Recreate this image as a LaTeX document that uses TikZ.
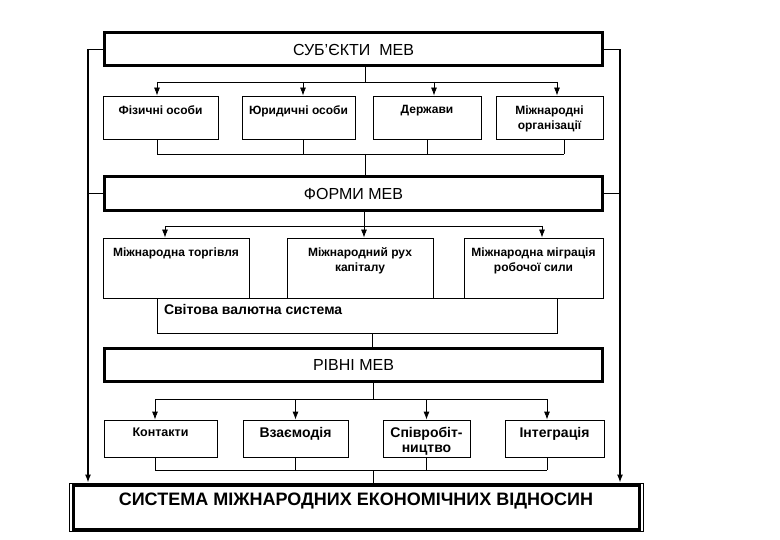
\documentclass[tikz,border=0pt]{standalone}
\usepackage{fontspec}
\setmainfont{Liberation Sans}
\usetikzlibrary{arrows.meta}

\begin{document}
\begin{tikzpicture}[x=1pt,y=-1pt,line width=0.8pt,
    head/.style={draw,line width=3pt,minimum width=498pt,minimum height=33pt,
        font=\fontsize{16}{18}\selectfont},
    sub/.style={draw,fill=white,inner sep=0pt},
    arr/.style={-{Latex[length=8pt,width=6pt]}},
    side/.style={line width=1.1pt},
    lbl/.style={anchor=north,inner sep=0pt,align=center},
    lblA/.style={lbl,yshift=-9.5pt,font=\bfseries\fontsize{12}{15}\selectfont},
    lblB/.style={lbl,yshift=-10pt,font=\bfseries\fontsize{12}{15}\selectfont},
    lblC/.style={lbl,yshift=-7.5pt,font=\bfseries\fontsize{14}{15}\selectfont},
    lblCs/.style={lbl,yshift=-8pt,font=\bfseries\fontsize{12.5}{15}\selectfont},
    svslbl/.style={anchor=north west,inner sep=0pt,xshift=7pt,yshift=-6pt,
        font=\bfseries\fontsize{14}{15}\selectfont},
    syslbl/.style={anchor=north,inner sep=0pt,yshift=-10pt,
        font=\bfseries\fontsize{18}{20}\selectfont}]

        \useasboundingbox (0,0) rectangle (780,540);

        \def \subbox#1#2#3#4#5#6#7{
            \node[sub, minimum width={(#4-#3)*1pt}, minimum height={(#6-#5)*1pt},
                label={[#2]north:{#7}}] (#1) at ({(#3+#4)/2}, {(#5+#6)/2}) {};
        }

        % Draw main boxes
        \node[head] (subj) at (353.5, 49.5) {СУБ’ЄКТИ~~МЕВ};
        \node[head, minimum height=34pt] (forms) at (353.5, 193.5) {ФОРМИ МЕВ};
        \node[head] (levels) at (353.5, 365) {РІВНІ МЕВ};
        \node[draw, line width=1pt, minimum width=574pt, minimum height=48pt,
            label={[syslbl]north:{СИСТЕМА МІЖНАРОДНИХ ЕКОНОМІЧНИХ ВІДНОСИН}}]
            (sys) at (356, 507) {};
        \draw[line width=3pt] ([shift={(4.5pt,-2.5pt)}]sys.north west)
            rectangle ([shift={(-4.5pt,2.5pt)}]sys.south east);

        % Draw subjects
        \subbox{b1}{lblA}{103}{218}{96}{139}{Фізичні особи}
        \subbox{b2}{lblA}{242}{355}{96}{139}{Юридичні особи}
        \subbox{b3}{lblA}{373}{481}{96}{139}{Держави}
        \subbox{b4}{lblA}{496}{603}{96}{139}{Міжнародні\\організації}

        % Draw forms
        \node[sub, minimum width=400pt, minimum height=35pt,
            label={[svslbl]north west:Світова валютна система}] (svs) at (357, 315.5) {};
        \subbox{f1}{lblB}{103}{249}{238}{298}{Міжнародна торгівля}
        \subbox{f2}{lblB}{287}{433}{238}{298}{Міжнародний рух\\капіталу}
        \subbox{f3}{lblB}{464}{603}{238}{298}{Міжнародна міграція\\робочої сили}

        % Draw levels
        \subbox{c1}{lblCs}{104}{217}{420}{457}{Контакти}
        \subbox{c2}{lblC}{243}{348}{420}{457}{Взаємодія}
        \subbox{c3}{lblC}{383}{470}{420}{457}{Співробіт-\\ництво}
        \subbox{c4}{lblC}{505}{604}{420}{457}{Інтеграція}

        % Draw edges
        \coordinate (bus-a) at (0, 82);
        \coordinate (bus-b) at (0, 154);
        \coordinate (bus-c) at (0, 226);
        \coordinate (bus-d) at (0, 399);
        \coordinate (bus-e) at (0, 470);
        \coordinate (sp-a) at (365, 0);
        \coordinate (sp-c) at (364, 0);
        \coordinate (sp-s) at (372, 0);
        \coordinate (sp-d) at (373, 0);
        \coordinate (lft) at (88, 0);
        \coordinate (rgt) at (620, 0);

        \draw (subj.south -| sp-a) -- (bus-a -| sp-a);
        \draw ([xshift=-3.5pt]b1.north |- bus-a) -- ([xshift=7.5pt]b4.north |- bus-a);
        \foreach \b/\d in {b1/-3.5, b2/4.5, b3/7, b4/7.5}
            \draw[arr] ([xshift=\d pt]\b.north |- bus-a) -- ([xshift=\d pt]\b.north);
        \foreach \b/\d in {b1/-3.5, b2/4.5, b3/0, b4/14.5}
            \draw ([xshift=\d pt]\b.south) -- ([xshift=\d pt]\b.south |- bus-b);
        \draw ([xshift=-3.5pt]b1.south |- bus-b) -- ([xshift=14.5pt]b4.south |- bus-b);
        \draw (bus-b -| sp-a) -- (forms.north -| sp-a);

        \draw (forms.south -| sp-c) -- (bus-c -| sp-c);
        \draw ([xshift=-11pt]f1.north |- bus-c) -- ([xshift=8.5pt]f3.north |- bus-c);
        \foreach \b/\d in {f1/-11, f2/4, f3/8.5}
            \draw[arr] ([xshift=\d pt]\b.north |- bus-c) -- ([xshift=\d pt]\b.north);
        \draw (svs.south -| sp-s) -- (levels.north -| sp-s);

        \draw (levels.south -| sp-d) -- (bus-d -| sp-d);
        \draw ([xshift=-5.5pt]c1.north |- bus-d) -- ([xshift=-7.5pt]c4.north |- bus-d);
        \foreach \b/\d in {c1/-5.5, c2/0, c3/0, c4/-7.5} {
            \draw[arr] ([xshift=\d pt]\b.north |- bus-d) -- ([xshift=\d pt]\b.north);
            \draw ([xshift=\d pt]\b.south) -- ([xshift=\d pt]\b.south |- bus-e);
        }
        \draw ([xshift=-5.5pt]c1.south |- bus-e) -- ([xshift=-7.5pt]c4.south |- bus-e);
        \draw (bus-e -| sp-d) -- (sys.north -| sp-d);

        % Draw side lines
        \draw[side, arr] (subj.west) -| (sys.north -| lft);
        \draw[side] (forms.west) -- (forms.west -| lft);
        \draw[side, arr] (subj.east) -| (sys.north -| rgt);
        \draw[side] (forms.east) -- (forms.east -| rgt);

    \end{tikzpicture}
\end{document}
